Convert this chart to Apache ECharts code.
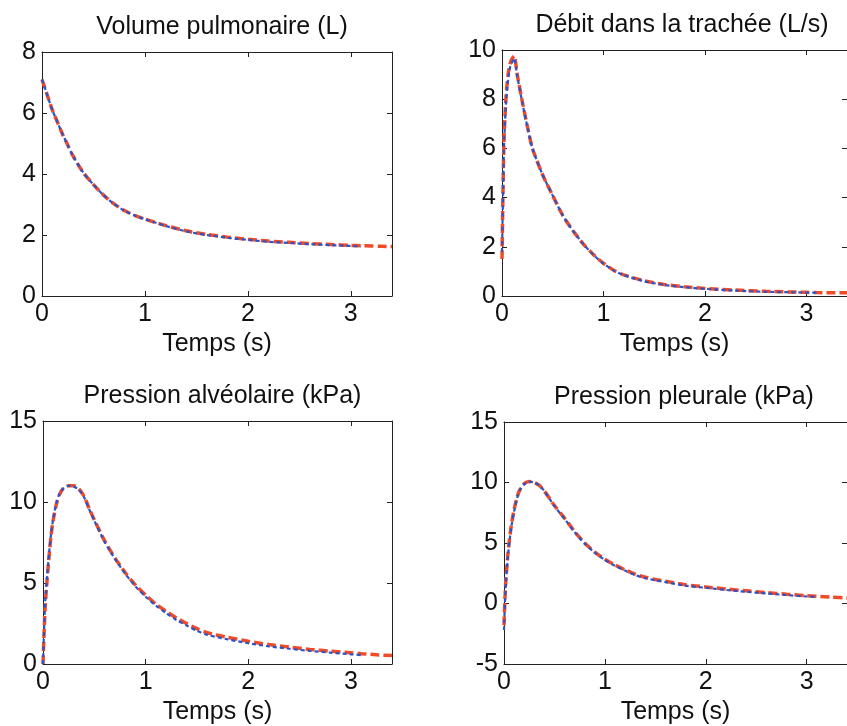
<!DOCTYPE html>
<html>
<head>
<meta charset="utf-8">
<script src="https://cdn.jsdelivr.net/npm/echarts@6/dist/echarts.min.js"></script>
<style>html,body{margin:0;padding:0;background:#fff;}#c{width:847px;height:726px;}</style>
</head>
<body>
<div id="c"></div>
<script>
// ---- Data ----
const titles = ['Volume pulmonaire (L)', 'Débit dans la trachée (L/s)', 'Pression alvéolaire (kPa)', 'Pression pleurale (kPa)'];
const xName = 'Temps (s)';
const xTicks = [0, 1, 2, 3];

const volT = [0,0.05,0.1,0.15,0.2,0.25,0.3,0.4,0.5,0.6,0.7,0.8,0.9,1.0,1.2,1.4,1.6,1.8,2.0,2.2,2.4,2.6,2.8,3.0,3.1];
const volBlue = [7.1,6.6,6.1,5.7,5.3,4.95,4.6,4.05,3.65,3.3,3.02,2.8,2.64,2.52,2.3,2.12,2.0,1.91,1.84,1.78,1.74,1.7,1.67,1.64,1.62];
const volRedT = [0,0.05,0.1,0.15,0.2,0.25,0.3,0.4,0.5,0.6,0.7,0.8,0.9,1.0,1.2,1.4,1.6,1.8,2.0,2.2,2.4,2.6,2.8,3.0,3.1,3.2,3.3,3.4];
const volRed = [7.1,6.6,6.1,5.7,5.3,4.95,4.6,4.05,3.65,3.3,3.02,2.8,2.64,2.52,2.31,2.14,2.02,1.93,1.86,1.8,1.76,1.72,1.69,1.66,1.65,1.64,1.63,1.62];

const debT = [0,0.01,0.02,0.04,0.06,0.08,0.1,0.12,0.15,0.2,0.25,0.3,0.4,0.5,0.6,0.7,0.8,0.9,1.0,1.1,1.2,1.4,1.6,1.8,2.0,2.3,2.6,3.0,3.1];
const debBlue = [1.8,4.0,6.1,7.9,8.8,9.3,9.5,9.66,8.95,7.86,6.88,6.0,4.93,4.08,3.27,2.65,2.12,1.68,1.32,1.04,0.85,0.6,0.45,0.36,0.29,0.22,0.17,0.14,0.13];
const debRedT = [0,0.01,0.02,0.04,0.06,0.08,0.1,0.12,0.15,0.2,0.25,0.3,0.4,0.5,0.6,0.7,0.8,0.9,1.0,1.1,1.2,1.4,1.6,1.8,2.0,2.3,2.6,3.0,3.1,3.25,3.4];
const debRed = [1.5,4.3,6.4,8.1,9.0,9.45,9.65,9.75,9.0,7.9,6.9,6.0,4.93,4.08,3.27,2.65,2.12,1.69,1.33,1.05,0.86,0.62,0.47,0.38,0.31,0.24,0.19,0.15,0.14,0.13,0.13];

const alvT = [0,0.02,0.04,0.06,0.08,0.1,0.13,0.16,0.2,0.25,0.3,0.35,0.4,0.45,0.5,0.6,0.7,0.8,0.9,1.0,1.1,1.2,1.3,1.4,1.5,1.6,1.8,2.0,2.2,2.4,2.6,2.8,3.0,3.1];
const alvBlue = [0,3.7,5.4,6.9,8.1,9.0,9.94,10.5,10.85,11.0,10.95,10.75,10.3,9.55,8.85,7.55,6.5,5.58,4.8,4.15,3.6,3.14,2.72,2.38,2.05,1.8,1.52,1.28,1.09,0.94,0.81,0.7,0.6,0.55];
const alvRedT = [0,0.02,0.04,0.06,0.08,0.1,0.13,0.16,0.2,0.25,0.3,0.35,0.4,0.45,0.5,0.6,0.7,0.8,0.9,1.0,1.1,1.2,1.3,1.4,1.5,1.6,1.8,2.0,2.2,2.4,2.6,2.8,3.0,3.1,3.25,3.4];
const alvRed = [0,3.4,5.2,6.7,8.0,8.9,9.85,10.45,10.85,11.0,11.0,10.8,10.35,9.6,8.9,7.6,6.55,5.65,4.88,4.25,3.7,3.25,2.84,2.5,2.18,1.93,1.64,1.4,1.2,1.04,0.9,0.79,0.69,0.64,0.57,0.52];

const pleT = [0,0.01,0.02,0.04,0.06,0.08,0.1,0.13,0.16,0.2,0.25,0.3,0.35,0.4,0.5,0.6,0.7,0.8,0.9,1.0,1.1,1.2,1.3,1.4,1.5,1.6,1.8,2.0,2.2,2.4,2.6,2.8,3.0,3.1];
const pleBlue = [-2.2,0.2,1.8,4.0,5.5,6.7,7.6,8.7,9.4,9.85,10.08,10.0,9.76,9.3,8.05,7.0,5.9,4.95,4.2,3.6,3.12,2.72,2.35,2.1,1.92,1.77,1.47,1.3,1.12,0.97,0.83,0.7,0.58,0.54];
const pleRedT = [0,0.01,0.02,0.04,0.06,0.08,0.1,0.13,0.16,0.2,0.25,0.3,0.35,0.4,0.5,0.6,0.7,0.8,0.9,1.0,1.1,1.2,1.3,1.4,1.5,1.6,1.8,2.0,2.2,2.4,2.6,2.8,3.0,3.1,3.25,3.4];
const pleRed = [-1.8,0.5,2.1,4.2,5.7,6.85,7.75,8.8,9.45,9.9,10.08,10.0,9.76,9.3,8.1,7.05,5.95,5.0,4.25,3.66,3.18,2.78,2.42,2.17,1.99,1.84,1.55,1.37,1.2,1.05,0.9,0.77,0.65,0.6,0.52,0.46];

const yRanges = [[0, 8, 2], [0, 10, 2], [0, 15, 5], [-5, 15, 5]];

// ---- Layout ----
const grids = [
  {left: 42, top: 52, width: 350, height: 244},
  {left: 502, top: 50, width: 350, height: 246},
  {left: 43, top: 421, width: 349, height: 245},
  {left: 504, top: 422, width: 350, height: 245}
];
const panels = [
  {blue: [volT, volBlue], red: [volRedT, volRed]},
  {blue: [debT, debBlue], red: [debRedT, debRed]},
  {blue: [alvT, alvBlue], red: [alvRedT, alvRed]},
  {blue: [pleT, pleBlue], red: [pleRedT, pleRed]}
];

const FONT = '"Liberation Sans", Arial, sans-serif';
const FS = 25;
const AX = '#222';
const zip = (t, v) => t.map((x, i) => [x, v[i]]);

const option = {
  animation: false,
  backgroundColor: '#fff',
  title: [], grid: [], xAxis: [], yAxis: [], series: []
};

grids.forEach((g, i) => {
  option.grid.push(Object.assign({containLabel: false}, g));
  option.title.push({
    text: titles[i], left: g.left + g.width / 2, top: g.top - 42, textAlign: 'center',
    textStyle: {fontFamily: FONT, fontSize: FS, fontWeight: 'normal', color: '#111'}
  });
  const xCommon = {type: 'value', gridIndex: i, min: 0, max: 3.4, interval: 1,
    splitLine: {show: false}, axisLine: {show: true, onZero: false, lineStyle: {color: AX, width: 1}}};
  option.xAxis.push(Object.assign({}, xCommon, {
    position: 'bottom', name: xName, nameLocation: 'middle', nameGap: 36,
    nameTextStyle: {fontFamily: FONT, fontSize: FS, color: '#111'},
    axisTick: {inside: true, length: 5, lineStyle: {color: AX}},
    axisLabel: {margin: 6, fontFamily: FONT, fontSize: FS, color: '#111', showMaxLabel: false,
      formatter: v => (xTicks.indexOf(v) >= 0 ? String(v) : '')}
  }));
  option.xAxis.push(Object.assign({}, xCommon, {
    position: 'top', axisTick: {inside: true, length: 5, lineStyle: {color: AX}}, axisLabel: {show: false}
  }));
  const r = yRanges[i];
  const yCommon = {type: 'value', gridIndex: i, min: r[0], max: r[1], interval: r[2],
    splitLine: {show: false}, axisLine: {show: true, onZero: false, lineStyle: {color: AX, width: 1}}};
  option.yAxis.push(Object.assign({}, yCommon, {
    position: 'left',
    axisTick: {inside: true, length: 5, lineStyle: {color: AX}},
    axisLabel: {margin: 6, fontFamily: FONT, fontSize: FS, color: '#111'}
  }));
  option.yAxis.push(Object.assign({}, yCommon, {
    position: 'right', axisTick: {inside: true, length: 5, lineStyle: {color: AX}}, axisLabel: {show: false}
  }));
  const p = panels[i];
  option.series.push({
    type: 'line', xAxisIndex: 2 * i, yAxisIndex: 2 * i, data: zip(p.red[0], p.red[1]),
    showSymbol: false, smooth: 0.25, z: 2,
    lineStyle: {color: '#f04a28', width: 3.5, type: [9, 4]}
  });
  option.series.push({
    type: 'line', xAxisIndex: 2 * i, yAxisIndex: 2 * i, data: zip(p.blue[0], p.blue[1]),
    showSymbol: false, smooth: 0.25, z: 3,
    lineStyle: {color: '#2a55c8', width: 2.2, type: [4, 3]}
  });
});

const chart = echarts.init(document.getElementById('c'), null, {renderer: 'canvas'});
chart.setOption(option);
</script>
</body>
</html>
